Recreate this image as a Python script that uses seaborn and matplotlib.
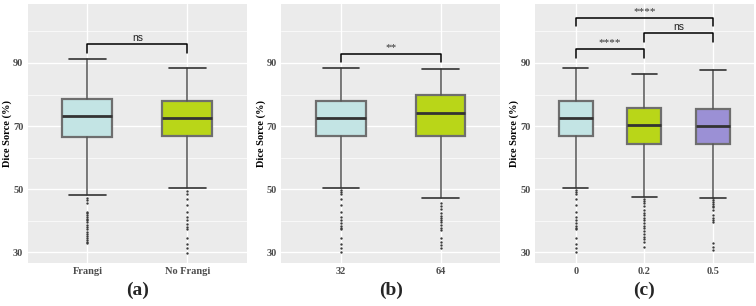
import numpy as np
import pandas as pd
import matplotlib
matplotlib.use("Agg")
import matplotlib.pyplot as plt
import seaborn as sns

# Data
# panel (a)
a_labels = ["Frangi", "No Frangi"]
a_q1 = [66.4, 66.9]
a_med = [73.3, 72.5]
a_q3 = [78.7, 78.1]
a_lo = [48.2, 50.5]
a_hi = [91.3, 88.4]
a_out = [
    [47.2, 46.5, 45.6, 42.8, 42.3, 41.8, 41.2, 40.6, 40.1, 39.5, 38.6, 38.0,
     37.4, 36.5, 35.9, 35.2, 34.6, 34.0, 33.4, 32.8],
    [49.5, 48.4, 46.9, 45.0, 42.9, 41.3, 40.3, 38.9, 38.1, 37.4, 34.6, 32.5,
     31.3, 29.9],
]

# panel (b)
b_labels = ["32", "64"]
b_q1 = [66.9, 66.8]
b_med = [72.5, 74.2]
b_q3 = [78.1, 79.8]
b_lo = [50.5, 47.1]
b_hi = [88.4, 88.2]
b_out = [
    [49.8, 49.0, 48.4, 46.9, 45.0, 42.9, 41.3, 40.3, 39.2, 38.4, 37.8, 37.4,
     34.6, 32.5, 31.3, 30.2],
    [45.6, 44.8, 43.7, 42.4, 41.6, 40.8, 40.3, 39.5, 38.5, 37.8, 37.0, 34.6,
     33.2, 32.4, 31.3],
]

# panel (c)
c_labels = ["0", "0.2", "0.5"]
c_q1 = [66.9, 64.3, 64.2]
c_med = [72.5, 70.2, 70.1]
c_q3 = [78.1, 75.6, 75.5]
c_lo = [50.5, 47.6, 47.3]
c_hi = [88.4, 86.4, 87.7]
c_out = [
    [49.8, 49.0, 48.4, 46.9, 45.0, 42.9, 41.3, 40.3, 39.2, 38.4, 37.8, 37.4,
     34.6, 32.5, 31.3, 30.2],
    [46.9, 46.2, 45.5, 44.8, 43.4, 42.6, 41.8, 41.0, 40.3, 39.2, 38.4, 37.6,
     36.8, 35.7, 34.9, 34.1, 33.4, 31.8],
    [47.1, 46.6, 46.0, 45.4, 44.8, 44.2, 43.4, 41.8, 41.0, 40.3, 39.5, 32.9,
     31.8, 30.7],
]

# significance brackets: (left, right, bar height, label)
a_sig = [(0, 1, 96.0, "ns")]
b_sig = [(0, 1, 93.0, "**")]
c_sig = [(0, 1, 94.4, "****"), (1, 2, 99.4, "ns"), (0, 2, 104.4, "****")]

fills = ["#C3E4E4", "#B9D618", "#9B90D5"]

sns.set_theme(style="darkgrid", rc={
    "axes.facecolor": "#EBEBEB",
    "grid.color": "white",
    "axes.edgecolor": "#EBEBEB",
})
plt.rcParams['font.family'] = ['Liberation Serif', 'DejaVu Serif']

fig = plt.figure(figsize=(7.56, 3.06), dpi=100)
H = 306.0
W = 756.0
ax_a = fig.add_axes([27.5 / W, 1 - 263.3 / H, 219.8 / W, 259.3 / H])
ax_b = fig.add_axes([281.3 / W, 1 - 263.3 / H, 219.0 / W, 259.3 / H])
ax_c = fig.add_axes([534.7 / W, 1 - 263.3 / H, 219.3 / W, 259.3 / H])


def draw_panel(ax, labels, q1, med, q3, lo, hi, outs, sig, tag):
    n = len(labels)
    stats = []
    for i in range(n):
        stats.append(dict(label=labels[i], q1=q1[i], med=med[i], q3=q3[i],
                          whislo=lo[i], whishi=hi[i], fliers=[]))
    bp = ax.bxp(stats, positions=range(n), widths=0.5, capwidths=0.37,
                patch_artist=True, showfliers=False, zorder=3,
                boxprops=dict(edgecolor="#6E6E6E", linewidth=1.6),
                whiskerprops=dict(color="#555555", linewidth=1.1),
                capprops=dict(color="#333333", linewidth=1.2),
                medianprops=dict(color="#333333", linewidth=2.0))
    for patch, col in zip(bp["boxes"], fills):
        patch.set_facecolor(col)

    # outliers via seaborn on the same categorical positions
    rows = []
    for lab, vals in zip(labels, outs):
        for v in vals:
            rows.append({"group": lab, "value": v})
    df = pd.DataFrame(rows)
    sns.stripplot(data=df, x="group", y="value", order=labels, jitter=False,
                  color="#3A3A3A", size=1.7, linewidth=0, ax=ax, zorder=4)

    for x1, x2, yb, txt in sig:
        ax.plot([x1, x1, x2, x2], [yb - 2.8, yb, yb, yb - 2.8],
                color="black", linewidth=1.1, zorder=5)
        if txt == "ns":
            ax.text((x1 + x2) / 2, yb + 0.4, txt, ha="center", va="bottom",
                    fontsize=7.5, family="Liberation Sans", color="#222222")
        else:
            ax.text((x1 + x2) / 2, yb + 0.6, txt, ha="center", va="bottom",
                    fontsize=8, color="#333333")

    ax.set_xlim(-0.6, n - 0.4)
    ax.set_ylim(26.5, 108.7)
    ax.set_xticks(range(n))
    ax.set_xticklabels(labels)
    ax.set_yticks([30, 50, 70, 90])
    ax.set_yticks([40, 60, 80, 100], minor=True)
    ax.grid(True, which="major", color="white", linewidth=1.0)
    ax.grid(True, which="minor", axis="y", color="white", linewidth=0.5)
    ax.tick_params(axis="both", which="major", length=2, width=0.7,
                   color="#444444", labelsize=7.5, labelcolor="#4D4D4D",
                   pad=1)
    ax.tick_params(axis="both", which="minor", length=0)
    for lab in ax.get_xticklabels() + ax.get_yticklabels():
        lab.set_fontweight("bold")
    ax.set_xlabel("")
    ax.set_ylabel("Dice Sorce (%)", fontsize=7.5, fontweight="bold",
                  color="black")
    pos = ax.get_position()
    ax.yaxis.set_label_coords(-15.5 / (pos.width * W), 0.5)
    for s in ax.spines.values():
        s.set_visible(False)
    fig.text(pos.x0 + pos.width / 2, 1 - 290 / H, tag, ha="center",
             va="center", fontsize=14, fontweight="bold")


draw_panel(ax_a, a_labels, a_q1, a_med, a_q3, a_lo, a_hi, a_out, a_sig, "(a)")
draw_panel(ax_b, b_labels, b_q1, b_med, b_q3, b_lo, b_hi, b_out, b_sig, "(b)")
draw_panel(ax_c, c_labels, c_q1, c_med, c_q3, c_lo, c_hi, c_out, c_sig, "(c)")

fig.savefig("out.png", dpi=100, facecolor="white")
